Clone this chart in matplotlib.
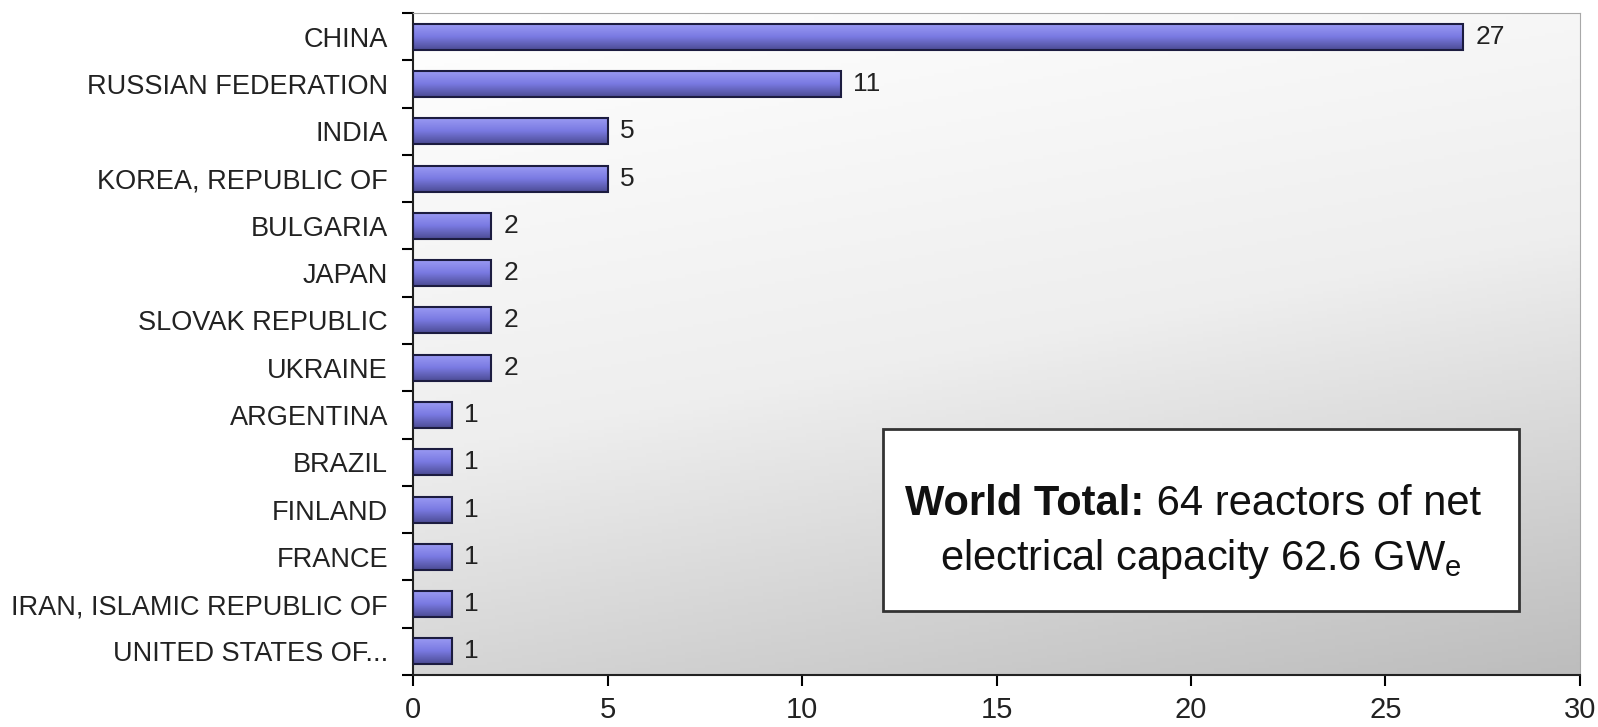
import matplotlib
matplotlib.use("Agg")
import matplotlib.pyplot as plt
import numpy as np
from matplotlib.colors import LinearSegmentedColormap
from matplotlib.patches import Rectangle

plt.rcParams['font.family'] = ['Liberation Sans', 'DejaVu Sans']
plt.rcParams['mathtext.fontset'] = 'custom'
plt.rcParams['mathtext.rm'] = 'Liberation Sans'

# data (top to bottom as in the chart)
countries = ["CHINA", "RUSSIAN FEDERATION", "INDIA", "KOREA, REPUBLIC OF",
             "BULGARIA", "JAPAN", "SLOVAK REPUBLIC", "UKRAINE", "ARGENTINA",
             "BRAZIL", "FINLAND", "FRANCE", "IRAN, ISLAMIC REPUBLIC OF",
             "UNITED STATES OF..."]
reactors = [27, 11, 5, 5, 2, 2, 2, 2, 1, 1, 1, 1, 1, 1]
x_ticks = [0, 5, 10, 15, 20, 25, 30]

fig = plt.figure(figsize=(15.98, 7.27), dpi=100)
ax = fig.add_axes([0.2585, 0.0715, 0.7302, 0.9105])

n = len(countries)
ypos = np.arange(n)

# background gradient: white top-left -> grey bottom-right
gx, gy = np.meshgrid(np.linspace(0, 1, 300), np.linspace(0, 1, 200))
g = np.clip(0.75 * gy + 0.25 * gx, 0, 1)
bg = LinearSegmentedColormap.from_list("bg", ["#ffffff", "#eeeeee", "#bdbdbd"])
ax.imshow(g, cmap=bg, extent=[0, 1, 0, 1], transform=ax.transAxes,
          aspect="auto", zorder=0, origin="upper")

bars = ax.barh(ypos, reactors, height=0.55, color="none",
               edgecolor="#1c1c40", linewidth=1.5, zorder=3)

# vertical gradient inside each bar
barcm = LinearSegmentedColormap.from_list("bar", ["#9c9cf4", "#7a7ae2", "#4c4c94"])
grad = np.linspace(0, 1, 100).reshape(-1, 1)
for b in bars:
    x0, y0 = b.get_x(), b.get_y()
    w, h = b.get_width(), b.get_height()
    im = ax.imshow(grad, cmap=barcm, extent=[x0, x0 + w, y0 + h, y0],
                   aspect="auto", zorder=2, origin="upper")
    im.set_clip_path(Rectangle((x0, y0), w, h, transform=ax.transData))

for y, v in zip(ypos, reactors):
    ax.annotate(str(v), (v, y), xytext=(9, 0), textcoords="offset points",
                va="center", ha="left", fontsize=19, color="#222222", zorder=4)

ax.set_xlim(0, 30)
ax.set_ylim(n - 0.5, -0.5)
ax.set_xticks(x_ticks)
ax.set_xticklabels([str(t) for t in x_ticks], fontsize=21, color="#222222")
ax.set_yticks(ypos)
ax.set_yticklabels(countries, fontsize=19.5, color="#222222")
ax.set_yticks(np.arange(-0.5, n, 1), minor=True)
ax.tick_params(axis="y", which="major", length=0, pad=18)
ax.tick_params(axis="y", which="minor", length=8, width=1.5, direction="out")
ax.tick_params(axis="x", length=8, width=1.5, direction="out", pad=7)

for s in ["top", "right"]:
    ax.spines[s].set_color("#a8a8a8")
for s in ["left", "bottom"]:
    ax.spines[s].set_color("#222222")
    ax.spines[s].set_linewidth(1.5)

# text box
box = Rectangle((0.4025, 0.097), 0.5455, 0.274, transform=ax.transAxes,
                facecolor="white", edgecolor="#333333", linewidth=2, zorder=5)
ax.add_patch(box)
t1 = ax.text(0.422, 0.2417, "World Total:", transform=ax.transAxes,
             ha="left", va="baseline", fontsize=30, fontweight="bold",
             color="#111111", zorder=6)
ax.annotate(" 64 reactors of net", xy=(1, 0), xycoords=t1,
            ha="left", va="bottom", fontsize=30, color="#111111", zorder=6)
ax.text(0.6755, 0.159, r"electrical capacity 62.6 GW$_\mathrm{e}$",
        transform=ax.transAxes, ha="center", va="baseline", fontsize=30,
        color="#111111", zorder=6)

fig.savefig("out.png", dpi=100)
